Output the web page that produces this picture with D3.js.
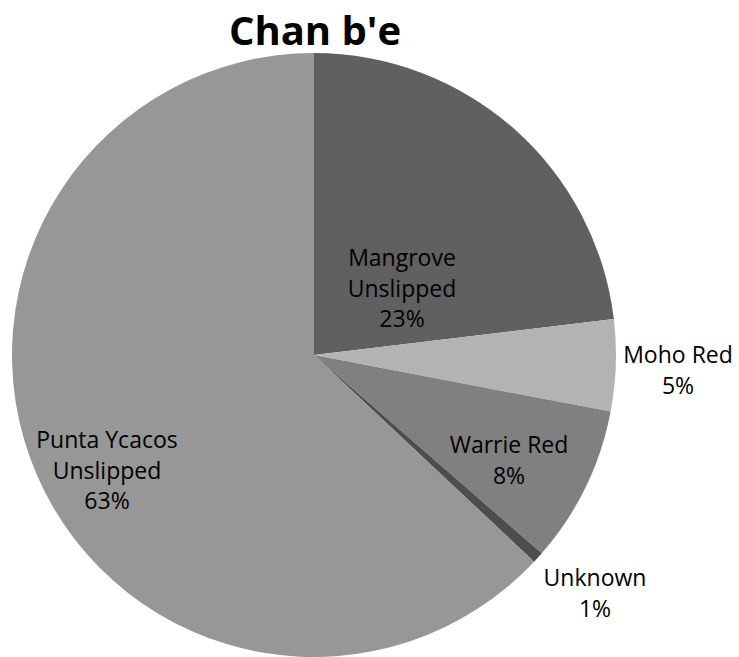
<!DOCTYPE html>
<html><head><meta charset="utf-8">
<script src="https://cdn.jsdelivr.net/npm/d3@7"></script>
<style>body{margin:0;background:#fff;}svg{display:block;font-family:"Open Sans",sans-serif;}</style>
</head><body>
<script>
const categories = ["Mangrove Unslipped","Moho Red","Warrie Red","Unknown","Punta Ycacos Unslipped"];
const values = [23.1, 4.9, 8.4, 0.6, 63.0];
const colors = ["#606060","#b3b3b3","#808080","#4d4d4d","#979797"];
const labelLines = [["Mangrove","Unslipped"],["Moho Red"],["Warrie Red"],["Unknown"],["Punta Ycacos","Unslipped"]];
const labelPos = [[402,258],[678,355],[509,445],[595,578],[107,440]];

const W=739,H=657, cx=314, cy=355, R=302;
const svg=d3.select("body").append("svg").attr("width",W).attr("height",H);
svg.append("text").attr("x",315).attr("y",45).attr("text-anchor","middle")
  .attr("font-size",40).attr("font-weight","bold").attr("fill","#000").text("Chan b'e");
const pie=d3.pie().sort(null).value(d=>d);
const arcs=pie(values);
const arc=d3.arc().innerRadius(0).outerRadius(R);
const g=svg.append("g").attr("transform",`translate(${cx},${cy})`);
g.selectAll("path").data(arcs).join("path").attr("d",arc).attr("fill",(d,i)=>colors[i]);
const total=d3.sum(values);
labelLines.forEach((lines,i)=>{
  const all=lines.concat([Math.round(values[i]/total*100)+"%"]);
  const t=svg.append("text").attr("text-anchor","middle").attr("font-size",23).attr("fill","#000");
  all.forEach((s,j)=>t.append("tspan").attr("x",labelPos[i][0]).attr("y",labelPos[i][1]+j*30.5+8).text(s));
});
</script>
</body></html>
